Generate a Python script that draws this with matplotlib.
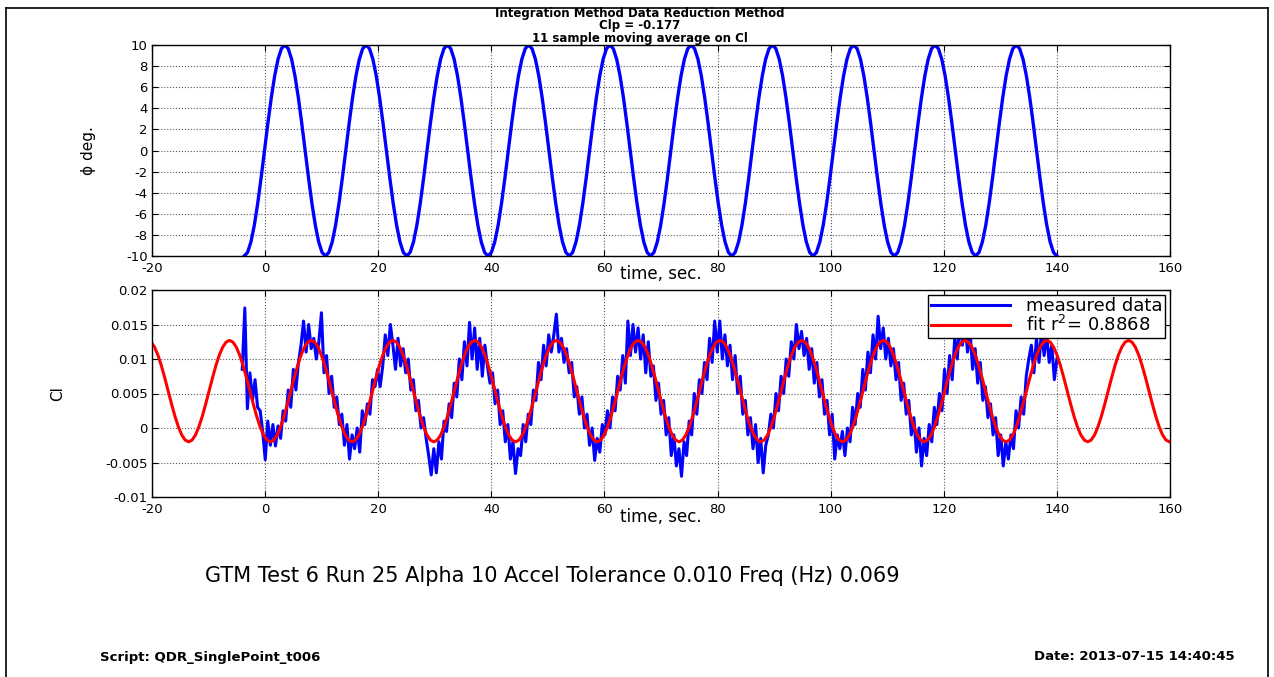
import numpy as np
import matplotlib
matplotlib.use("Agg")
import matplotlib.pyplot as plt
from matplotlib.lines import Line2D

plt.rcParams['font.family'] = ['DejaVu Sans']
plt.rcParams['axes.unicode_minus'] = False

# roll angle phi (deg), one sample every ~0.6 s, -3.7 s .. 140 s
phi_deg = [
    -10, -9.66, -8.66, -7.07, -5.0, -2.59, 0.0, 2.59, 5.0, 7.07, 8.66, 9.66, 10, 9.66, 8.66, 7.07, 5.0, 2.59, 0.0, -2.59, -5.0, -7.07, -8.66, -9.66,
    -10, -9.66, -8.66, -7.07, -5.0, -2.59, 0.0, 2.59, 5.0, 7.07, 8.66, 9.66, 10, 9.66, 8.66, 7.07, 5.0, 2.59, 0.0, -2.59, -5.0, -7.07, -8.66, -9.66,
    -10, -9.66, -8.66, -7.07, -5.0, -2.59, 0.0, 2.59, 5.0, 7.07, 8.66, 9.66, 10, 9.66, 8.66, 7.07, 5.0, 2.59, 0.0, -2.59, -5.0, -7.07, -8.66, -9.66,
    -10, -9.66, -8.66, -7.07, -5.0, -2.59, 0.0, 2.59, 5.0, 7.07, 8.66, 9.66, 10, 9.66, 8.66, 7.07, 5.0, 2.59, 0.0, -2.59, -5.0, -7.07, -8.66, -9.66,
    -10, -9.66, -8.66, -7.07, -5.0, -2.59, 0.0, 2.59, 5.0, 7.07, 8.66, 9.66, 10, 9.66, 8.66, 7.07, 5.0, 2.59, 0.0, -2.59, -5.0, -7.07, -8.66, -9.66,
    -10, -9.66, -8.66, -7.07, -5.0, -2.59, 0.0, 2.59, 5.0, 7.07, 8.66, 9.66, 10, 9.66, 8.66, 7.07, 5.0, 2.59, 0.0, -2.59, -5.0, -7.07, -8.66, -9.66,
    -10, -9.66, -8.66, -7.07, -5.0, -2.59, 0.0, 2.59, 5.0, 7.07, 8.66, 9.66, 10, 9.66, 8.66, 7.07, 5.0, 2.59, 0.0, -2.59, -5.0, -7.07, -8.66, -9.66,
    -10, -9.66, -8.66, -7.07, -5.0, -2.59, 0.0, 2.59, 5.0, 7.07, 8.66, 9.66, 10, 9.66, 8.66, 7.07, 5.0, 2.59, 0.0, -2.59, -5.0, -7.07, -8.66, -9.66,
    -10, -9.66, -8.66, -7.07, -5.0, -2.59, 0.0, 2.59, 5.0, 7.07, 8.66, 9.66, 10, 9.66, 8.66, 7.07, 5.0, 2.59, 0.0, -2.59, -5.0, -7.07, -8.66, -9.66,
    -10, -9.66, -8.66, -7.07, -5.0, -2.59, 0.0, 2.59, 5.0, 7.07, 8.66, 9.66, 10, 9.66, 8.66, 7.07, 5.0, 2.59, 0.0, -2.59, -5.0, -7.07, -8.66, -9.66,
    -10,
]
t_phi = np.linspace(-3.7, 140.0, len(phi_deg))

# measured Cl (x 1e-3), -4.04 s .. 140 s
cl_meas_milli = [
    8.5, 17.4, 2.8, 8.0, 4.0, 7.0, 3.0, 2.5, -0.5, -4.6, 1.0, -2.5, 0.5, -2.6, 0.3, -1.5,
    2.5, 1.0, 5.5, 3.0, 8.5, 5.5, 9.5, 12.0, 15.5, 11.0, 15.0, 11.5, 13.0, 10.0, 12.5, 16.7,
    8.0, 10.5, 5.0, 7.5, 3.0, 4.5, 0.5, 2.0, -2.5, 0.5, -4.5, -1.0, -3.0, 0.0, -3.5, 2.5,
    0.5, 3.5, 2.0, 7.0, 6.0, 8.5, 6.0, 9.0, 13.5, 10.5, 15.0, 12.0, 8.5, 13.0, 9.0, 11.5,
    8.0, 10.0, 5.5, 7.0, 2.5, 4.0, 0.0, 1.5, -1.5, -4.0, -6.8, -3.0, -6.5, -2.0, -4.5, 1.0,
    -0.5, 3.5, 1.5, 6.5, 4.5, 10.0, 7.0, 12.5, 9.0, 15.3, 10.0, 14.5, 8.5, 13.0, 7.5, 12.0,
    9.0, 6.5, 8.0, 3.5, 5.5, 0.5, 2.5, -2.0, 0.5, -4.5, -2.0, -6.6, -3.0, -4.0, 0.5, -2.0,
    2.0, 0.5, 5.5, 4.0, 9.5, 7.0, 12.0, 9.0, 13.5, 11.0, 13.5, 16.5, 11.0, 13.0, 9.5, 11.5,
    8.0, 9.5, 4.5, 6.0, 2.0, 4.5, 0.0, 2.0, -2.5, 0.0, -4.7, -1.5, -3.5, 0.5, -1.0, 2.5,
    0.0, 4.5, 2.5, 7.5, 5.5, 10.5, 6.5, 15.5, 10.5, 15.0, 11.0, 14.5, 10.0, 13.5, 8.0, 12.5,
    7.5, 9.0, 4.0, 6.5, 2.0, 4.0, -1.0, 1.5, -4.0, -1.0, -5.5, -3.0, -7.0, -2.0, -4.0, 1.0,
    -1.0, 5.0, 2.0, 7.0, 5.0, 9.5, 7.0, 13.0, 9.5, 15.5, 11.0, 15.5, 10.0, 13.5, 9.0, 12.0,
    7.0, 10.5, 5.0, 7.5, 2.0, 4.0, -1.0, 1.5, -3.0, 0.5, -5.0, -1.5, -6.5, -2.5, -1.0, 2.0,
    0.0, 5.0, 2.5, 7.5, 5.0, 10.0, 7.5, 12.5, 10.0, 15.0, 11.5, 14.0, 10.5, 13.0, 8.5, 11.5,
    6.5, 9.5, 4.5, 7.0, 2.0, 4.0, -1.0, 2.0, -4.5, -1.0, -3.0, -0.5, -4.0, 0.0, -2.0, 3.0,
    0.5, 5.0, 3.0, 8.5, 5.5, 11.0, 8.0, 13.5, 10.0, 16.2, 11.5, 14.5, 10.0, 13.0, 9.0, 11.5,
    7.0, 9.5, 4.0, 6.5, 2.0, 4.0, -1.0, 1.5, -3.5, 0.0, -5.5, -1.5, -4.0, 0.5, -2.0, 3.0,
    0.5, 5.0, 2.5, 8.5, 5.0, 10.5, 7.0, 13.0, 10.0, 16.0, 12.0, 15.5, 11.0, 14.0, 8.5, 11.5,
    6.5, 9.5, 4.0, 6.0, 1.5, 3.5, -1.0, 1.5, -4.0, -1.0, -5.5, -2.0, -4.5, -1.0, -3.0, 2.5,
    0.0, 4.5, 2.0, 7.5, 10.0, 12.0, 8.0, 13.0, 9.5, 14.0, 10.5, 13.5, 9.5, 12.0, 7.0, 10.0,
]
t_meas = np.linspace(-4.04, 140.0, len(cl_meas_milli))

# fitted Cl (x 1e-3), -20.75 s .. 159.9 s
cl_fit_milli = [
    12.70, 12.45, 11.72, 10.55, 9.03, 7.25, 5.35, 3.45, 1.68, 0.15, -1.02, -1.75, -2.00, -1.75, -1.02, 0.15, 1.68, 3.45, 5.35, 7.25, 9.03, 10.55, 11.72, 12.45,
    12.70, 12.45, 11.72, 10.55, 9.03, 7.25, 5.35, 3.45, 1.68, 0.15, -1.02, -1.75, -2.00, -1.75, -1.02, 0.15, 1.68, 3.45, 5.35, 7.25, 9.03, 10.55, 11.72, 12.45,
    12.70, 12.45, 11.72, 10.55, 9.03, 7.25, 5.35, 3.45, 1.68, 0.15, -1.02, -1.75, -2.00, -1.75, -1.02, 0.15, 1.68, 3.45, 5.35, 7.25, 9.03, 10.55, 11.72, 12.45,
    12.70, 12.45, 11.72, 10.55, 9.03, 7.25, 5.35, 3.45, 1.68, 0.15, -1.02, -1.75, -2.00, -1.75, -1.02, 0.15, 1.68, 3.45, 5.35, 7.25, 9.03, 10.55, 11.72, 12.45,
    12.70, 12.45, 11.72, 10.55, 9.03, 7.25, 5.35, 3.45, 1.68, 0.15, -1.02, -1.75, -2.00, -1.75, -1.02, 0.15, 1.68, 3.45, 5.35, 7.25, 9.03, 10.55, 11.72, 12.45,
    12.70, 12.45, 11.72, 10.55, 9.03, 7.25, 5.35, 3.45, 1.68, 0.15, -1.02, -1.75, -2.00, -1.75, -1.02, 0.15, 1.68, 3.45, 5.35, 7.25, 9.03, 10.55, 11.72, 12.45,
    12.70, 12.45, 11.72, 10.55, 9.03, 7.25, 5.35, 3.45, 1.68, 0.15, -1.02, -1.75, -2.00, -1.75, -1.02, 0.15, 1.68, 3.45, 5.35, 7.25, 9.03, 10.55, 11.72, 12.45,
    12.70, 12.45, 11.72, 10.55, 9.03, 7.25, 5.35, 3.45, 1.68, 0.15, -1.02, -1.75, -2.00, -1.75, -1.02, 0.15, 1.68, 3.45, 5.35, 7.25, 9.03, 10.55, 11.72, 12.45,
    12.70, 12.45, 11.72, 10.55, 9.03, 7.25, 5.35, 3.45, 1.68, 0.15, -1.02, -1.75, -2.00, -1.75, -1.02, 0.15, 1.68, 3.45, 5.35, 7.25, 9.03, 10.55, 11.72, 12.45,
    12.70, 12.45, 11.72, 10.55, 9.03, 7.25, 5.35, 3.45, 1.68, 0.15, -1.02, -1.75, -2.00, -1.75, -1.02, 0.15, 1.68, 3.45, 5.35, 7.25, 9.03, 10.55, 11.72, 12.45,
    12.70, 12.45, 11.72, 10.55, 9.03, 7.25, 5.35, 3.45, 1.68, 0.15, -1.02, -1.75, -2.00, -1.75, -1.02, 0.15, 1.68, 3.45, 5.35, 7.25, 9.03, 10.55, 11.72, 12.45,
    12.70, 12.45, 11.72, 10.55, 9.03, 7.25, 5.35, 3.45, 1.68, 0.15, -1.02, -1.75, -2.00, -1.75, -1.02, 0.15, 1.68, 3.45, 5.35, 7.25, 9.03, 10.55, 11.72, 12.45,
    12.70, 12.45, 11.72, 10.55, 9.03, 7.25, 5.35, 3.45, 1.68, 0.15, -1.02, -1.75, -2.00,
]
t_fit = np.linspace(-20.75, 159.9, len(cl_fit_milli))

cl_meas = np.array(cl_meas_milli) / 1000.0
cl_fit = np.array(cl_fit_milli) / 1000.0

title_lines = ["Integration Method Data Reduction Method",
               "Clp = -0.177",
               "11 sample moving average on Cl"]
r2 = 0.8868
info_text = "GTM Test 6 Run 25 Alpha 10 Accel Tolerance 0.010 Freq (Hz) 0.069"
script_text = "Script: QDR_SinglePoint_t006"
date_text = "Date: 2013-07-15 14:40:45"

W, H = 1274, 677
fig = plt.figure(figsize=(W / 100, H / 100), dpi=100)

def style_axes(ax):
    ax.set_xlim(-20, 160)
    ax.set_xticks(np.arange(-20, 161, 20))
    ax.grid(True, linestyle=':', color='0.35', linewidth=0.8)
    ax.tick_params(direction='in', top=True, right=True, length=4, labelsize=9.5)
    ax.tick_params(axis='x', pad=4)
    ax.tick_params(axis='y', pad=3)
    for s in ax.spines.values():
        s.set_linewidth(1.0)

ax1 = fig.add_axes([152 / W, 1 - 256 / H, 1018 / W, 211 / H])
ax1.plot(t_phi, phi_deg, color='#0000ff', linewidth=2.4)
style_axes(ax1)
ax1.set_ylim(-10, 10)
ax1.set_yticks(np.arange(-10, 11, 2))
ax1.set_xlabel("time, sec.", fontsize=12)
ax1.xaxis.set_label_coords(0.5, -0.045)
ax1.set_ylabel("ϕ deg.", fontsize=11)
ax1.yaxis.set_label_coords(-0.055, 0.5)

ax2 = fig.add_axes([152 / W, 1 - 497 / H, 1018 / W, 207 / H])
ax2.plot(t_meas, cl_meas, color='#0000ff', linewidth=2.2, label="measured data")
ax2.plot(t_fit, cl_fit, color='#ff0000', linewidth=2.2, label="fit r$^2$= %.4f" % r2)
style_axes(ax2)
ax2.set_ylim(-0.01, 0.02)
ax2.set_yticks([-0.01, -0.005, 0, 0.005, 0.01, 0.015, 0.02])
ax2.set_yticklabels(["-0.01", "-0.005", "0", "0.005", "0.01", "0.015", "0.02"])
ax2.set_xlabel("time, sec.", fontsize=12)
ax2.xaxis.set_label_coords(0.5, -0.055)
ax2.set_ylabel("Cl", fontsize=11)
ax2.yaxis.set_label_coords(-0.085, 0.5)
leg = ax2.legend(loc='upper right', fontsize=13, fancybox=False, framealpha=1,
                 edgecolor='black', borderaxespad=0.25, handlelength=4.4,
                 borderpad=0.15, labelspacing=0.0, handletextpad=0.9)
leg.get_frame().set_linewidth(1.0)

fig.text(640 / W, 1 - 26 / H, "\n".join(title_lines), ha='center', va='center',
         multialignment='center', fontsize=8.5, fontweight='bold', linespacing=0.92)

fig.text(205 / W, 1 - 576 / H, info_text, ha='left', va='center', fontsize=15)
fig.text(100 / W, 1 - 657 / H, script_text, ha='left', va='center', fontsize=9.5, fontweight='bold')
fig.text(1235 / W, 1 - 657 / H, date_text, ha='right', va='center', fontsize=9.5, fontweight='bold')

# page frame
for xs, ys in [([6, 6], [677, 8]), ([6, 1268], [8, 8]), ([1268, 1268], [8, 677])]:
    fig.add_artist(Line2D([x / W for x in xs], [1 - y / H for y in ys],
                          color='black', linewidth=1.2))

fig.savefig("out.png", dpi=100)
